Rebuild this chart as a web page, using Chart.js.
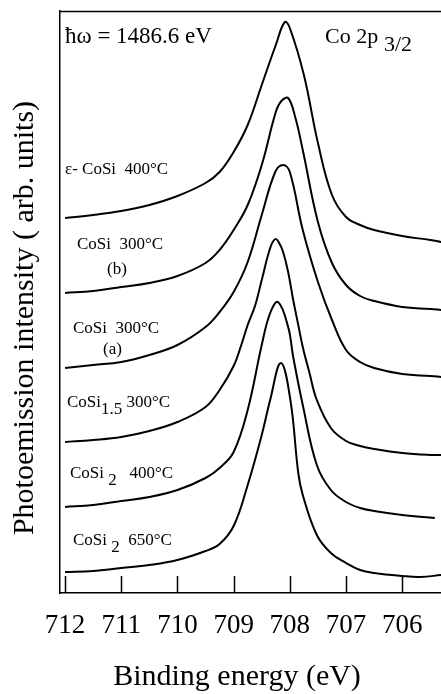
<!DOCTYPE html>
<html>
<head>
<meta charset="utf-8">
<script src="https://cdn.jsdelivr.net/npm/chart.js@4.4.0/dist/chart.umd.min.js"></script>
<style>
  html, body { margin: 0; padding: 0; background: #fff; }
  #wrap { width: 441px; height: 694px; position: relative; }
</style>
</head>
<body>
<div id="wrap"><canvas id="xps"></canvas></div>
<script>
// Co 2p3/2 core level spectra of cobalt silicides, stacked (arb. units)
const tickEnergies = [712, 711, 710, 709, 708, 707, 706];

// ε-CoSi 400°C
const energyEps = [712, 711.5, 711, 710.5, 710, 709.5, 709.25, 709, 708.75, 708.5, 708.25, 708.09, 708, 707.75, 707.5, 707.25, 707, 706.75, 706.5, 706, 705.5, 705.3];
const intensityEps = [375, 378, 382, 388, 397, 410, 421, 441, 468, 508, 548, 571, 565, 518, 450, 398, 376, 368, 363, 357, 353, 351];

// CoSi 300°C (b)
const energyCoSiB = [712, 711.5, 711, 710.5, 710, 709.5, 709.25, 709, 708.75, 708.5, 708.25, 708.15, 708.03, 707.9, 707.77, 707.5, 707.25, 707, 706.75, 706.5, 706, 705.5, 705.3];
const intensityCoSiB = [300, 302, 306, 310, 317, 330, 343, 363, 388, 428, 481, 492, 495, 475, 443, 371, 330, 308, 297, 292, 286, 284, 283];

// CoSi 300°C (a)
const energyCoSiA = [712, 711.5, 711, 710.5, 710, 709.5, 709.25, 709, 708.75, 708.5, 708.26, 708.12, 708, 707.77, 707.5, 707.25, 707, 706.75, 706.5, 706, 705.5, 705.3];
const intensityCoSiA = [225, 228, 231, 238, 248, 266, 281, 301, 331, 378, 421, 428, 421, 363, 311, 273, 243, 231, 225, 219, 217, 216];

// CoSi1.5 300°C
const energyCoSi15 = [712, 711.5, 711, 710.5, 710, 709.5, 709.25, 709, 708.87, 708.75, 708.62, 708.5, 708.35, 708.26, 708.19, 708.12, 708.03, 707.94, 707.85, 707.77, 707.65, 707.52, 707.27, 707, 706.75, 706.5, 706, 705.5, 705.3];
const intensityCoSi15 = [151, 153, 156, 162, 171, 186, 203, 227, 247, 268, 287, 313, 345, 354, 350, 341, 321, 293, 268, 246, 220, 193, 165, 152, 147, 144, 140, 138, 138];

// CoSi2 400°C
const energyCoSi2a = [712, 711.5, 711, 710.5, 710, 709.5, 709.25, 709, 708.75, 708.5, 708.35, 708.21, 708.03, 707.94, 707.77, 707.52, 707.27, 707, 706.75, 706.5, 706, 705.42];
const intensityCoSi2a = [86, 88, 92, 96, 103, 115, 125, 141, 183, 248, 280, 291, 266, 236, 188, 128, 103, 91, 85, 82, 78, 75];

// CoSi2 650°C
const energyCoSi2b = [712, 711.5, 711, 710.5, 710, 709.5, 709.25, 709, 708.75, 708.5, 708.35, 708.16, 707.99, 707.85, 707.77, 707.52, 707.27, 707, 706.75, 706.5, 706, 705.68, 705.3];
const intensityCoSi2b = [21, 22, 25, 28, 33, 42, 49, 67, 108, 158, 193, 230, 193, 120, 98, 58, 40, 30, 23, 20, 17, 16, 18];

const spectra = [
  [energyEps, intensityEps],
  [energyCoSiB, intensityCoSiB],
  [energyCoSiA, intensityCoSiA],
  [energyCoSi15, intensityCoSi15],
  [energyCoSi2a, intensityCoSi2a],
  [energyCoSi2b, intensityCoSi2b]
];

const SERIF = '"Liberation Serif", "Times New Roman", serif';

// text pieces, sub = drawn lower like a subscript
const curveLabels = [
  { x: 65, y: 174, parts: [{ t: 'ε- CoSi  400°C' }] },
  { x: 77, y: 249, parts: [{ t: 'CoSi  300°C' }] },
  { x: 107, y: 274, parts: [{ t: '(b)' }] },
  { x: 73, y: 333, parts: [{ t: 'CoSi  300°C' }] },
  { x: 103, y: 354, parts: [{ t: '(a)' }] },
  { x: 67, y: 407, parts: [{ t: 'CoSi' }, { t: '1.5', sub: true }, { t: ' 300°C' }] },
  { x: 70, y: 478, parts: [{ t: 'CoSi ' }, { t: '2', sub: true }, { t: '   400°C' }] },
  { x: 73, y: 545, parts: [{ t: 'CoSi ' }, { t: '2', sub: true }, { t: '  650°C' }] }
];

function drawParts(ctx, x, y, parts, size) {
  ctx.font = size + 'px ' + SERIF;
  parts.forEach(p => {
    ctx.fillText(p.t, x, p.sub ? y + 7 : y);
    x += ctx.measureText(p.t).width;
  });
}

const decorations = {
  id: 'decorations',
  afterDraw(chart) {
    const { ctx, chartArea: a, scales: { x } } = chart;
    ctx.save();
    ctx.strokeStyle = '#000';
    ctx.lineWidth = 1.5;
    ctx.beginPath();
    // top frame line
    ctx.moveTo(a.left, a.top + 0.5);
    ctx.lineTo(a.right, a.top + 0.5);
    // ticks pointing into the plot
    tickEnergies.forEach(v => {
      const px = Math.round(x.getPixelForValue(v)) + 0.5;
      ctx.moveTo(px, a.bottom);
      ctx.lineTo(px, a.bottom - 17);
    });
    ctx.stroke();

    ctx.fillStyle = '#000';
    ctx.textAlign = 'left';
    ctx.textBaseline = 'alphabetic';
    curveLabels.forEach(l => drawParts(ctx, l.x, l.y, l.parts, 17));

    drawParts(ctx, 65, 43, [{ t: 'ħω = 1486.6 eV' }], 23);
    drawParts(ctx, 325, 43, [{ t: 'Co 2p' }], 22);
    drawParts(ctx, 384, 51, [{ t: '3/2' }], 22);

    // axis titles
    ctx.textAlign = 'center';
    ctx.textBaseline = 'middle';
    ctx.font = '30px ' + SERIF;
    ctx.fillText('Binding energy (eV)', 237, 677);
    ctx.translate(25, 318);
    ctx.rotate(-Math.PI / 2);
    ctx.fillText('Photoemission intensity ( arb. units)', 0, 0);
    ctx.restore();
  }
};

new Chart(document.getElementById('xps'), {
  type: 'line',
  data: {
    datasets: spectra.map(([e, v]) => ({
      data: e.map((en, i) => ({ x: en, y: v[i] })),
      borderColor: '#000',
      borderWidth: 2,
      pointRadius: 0,
      fill: false,
      tension: 0.4
    }))
  },
  options: {
    responsive: true,
    maintainAspectRatio: false,
    animation: false,
    events: [],
    layout: { padding: { left: 60, top: 11, right: 0, bottom: 34.6 } },
    plugins: { legend: { display: false }, tooltip: { enabled: false } },
    scales: {
      x: {
        type: 'linear',
        reverse: true,
        min: 705.31,
        max: 712.09,
        afterBuildTicks: axis => { axis.ticks = tickEnergies.map(v => ({ value: v })); },
        grid: { display: false, drawTicks: false },
        border: { display: true, color: '#000', width: 1.5 },
        ticks: { color: '#000', padding: 17, maxRotation: 0, font: { family: SERIF, size: 27 } }
      },
      y: {
        min: 0,
        max: 582,
        grid: { display: false, drawTicks: false },
        border: { display: true, color: '#000', width: 1.5 },
        ticks: { display: false }
      }
    }
  },
  plugins: [decorations]
});
</script>
</body>
</html>
